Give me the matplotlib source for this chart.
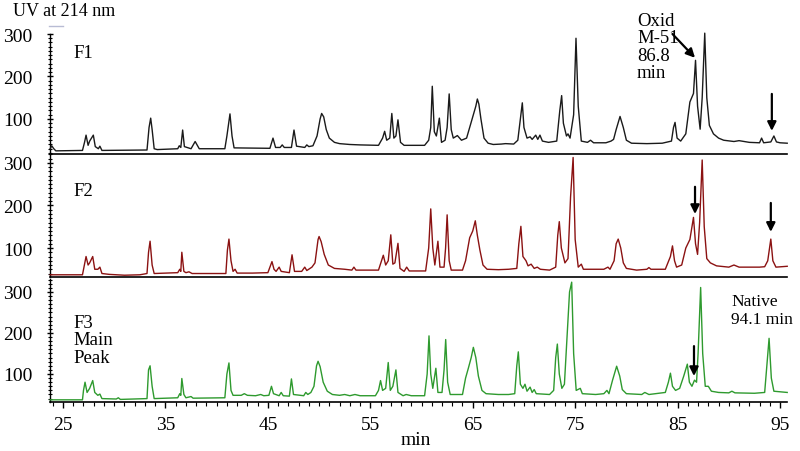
import matplotlib
matplotlib.use("Agg")
import matplotlib.pyplot as plt
from matplotlib.ticker import MultipleLocator, FixedLocator

plt.rcParams['font.family'] = ['Liberation Serif', 'DejaVu Serif']

# ---------------- data (retention time in min, UV signal) ----------------
f1_time = [23.75, 23.9, 24.1, 24.3, 26.9, 27.1, 27.25, 27.45, 27.6, 27.96, 28.15, 28.45, 28.6, 28.8,
           33.2, 33.4, 33.56, 33.7, 33.9, 34.2, 36.2, 36.35, 36.5, 36.68, 36.85, 37.5, 37.9, 38.3,
           40.8, 41.0, 41.3, 41.5, 41.7, 45.2, 45.5, 45.75, 46.2, 46.4, 46.6, 47.3, 47.55, 47.8,
           48.6, 48.8, 49.0, 49.4, 49.8, 50.1, 50.25, 50.45, 50.7, 51.0, 51.5, 52.0, 53.0, 54.0,
           55.8, 56.2, 56.4, 56.6, 56.9, 57.1, 57.3, 57.5, 57.7, 57.95, 58.3, 60.3, 60.7, 60.9,
           61.05, 61.25, 61.45, 61.74, 61.95, 62.3, 62.5, 62.7, 62.9, 63.1, 63.5, 63.9, 64.4, 64.7,
           64.9, 65.3, 65.45, 65.6, 65.8, 66.1, 66.5, 67.0, 67.8, 68.2, 69.0, 69.4, 69.65, 69.84,
           70.0, 70.3, 70.6, 70.8, 71.15, 71.35, 71.56, 71.8, 72.4, 73.2, 73.5, 73.68, 73.85, 74.15,
           74.3, 74.5, 74.85, 75.08, 75.3, 75.6, 76.2, 76.5, 76.8, 77.5, 78.0, 78.5, 78.75, 79.0,
           79.38, 79.7, 80.0, 80.5, 82.0, 83.5, 84.4, 84.6, 84.75, 84.95, 85.3, 85.8, 86.2, 86.55,
           86.75, 86.95, 87.2, 87.4, 87.65, 87.85, 88.1, 88.5, 89.0, 89.5, 90.5, 91.0, 92.0, 93.0,
           93.2, 93.4, 94.1, 94.4, 94.65, 95.0, 95.7]
f1_signal = [30, 37, 30, 25, 26, 45, 62, 38, 48, 62, 35, 30, 36, 26,
             27, 80, 102, 75, 30, 28, 30, 37, 33, 74, 35, 30, 47, 30,
             30, 60, 112, 60, 32, 31, 55, 33, 33, 39, 33, 33, 74, 36,
             33, 39, 35, 37, 60, 100, 113, 105, 75, 55, 45, 42, 40, 39,
             38, 55, 71, 50, 55, 113, 55, 60, 98, 45, 38, 38, 50, 80,
             177, 70, 60, 102, 45, 50, 80, 159, 75, 55, 61, 50, 55, 80,
             96, 130, 147, 135, 100, 55, 43, 40, 41, 42, 41, 50, 100, 138,
             80, 55, 58, 52, 62, 52, 62, 48, 45, 48, 120, 155, 90, 60,
             65, 55, 110, 290, 130, 48, 45, 50, 44, 44, 44, 48, 52, 75,
             106, 80, 50, 43, 42, 43, 48, 80, 92, 55, 48, 65, 140, 160,
             238, 130, 76, 150, 302, 150, 85, 65, 55, 50, 47, 49, 45, 44,
             55, 44, 46, 60, 46, 44, 43]

f2_time = [23.75, 26.9, 27.05, 27.25, 27.45, 27.6, 27.9, 28.1, 28.4, 28.6, 28.8, 29.5, 31.0, 32.5,
           33.2, 33.35, 33.5, 33.7, 33.9, 36.2, 36.4, 36.5, 36.6, 36.8, 37.0, 37.3, 37.6, 40.9,
           41.05, 41.2, 41.4, 41.6, 41.8, 42.0, 43.5, 45.0, 45.2, 45.4, 45.6, 45.8, 46.1, 46.3,
           47.1, 47.36, 47.6, 48.3, 48.6, 48.8, 49.3, 49.6, 49.9, 50.0, 50.2, 50.5, 50.9, 51.5,
           52.5, 53.2, 53.4, 53.6, 54.5, 55.8, 56.1, 56.27, 56.5, 56.75, 57.0, 57.2, 57.4, 57.7,
           57.9, 58.3, 58.55, 58.8, 60.4, 60.7, 60.9, 61.1, 61.3, 61.6, 61.8, 62.2, 62.35, 62.5,
           62.7, 62.9, 64.0, 64.3, 64.7, 65.0, 65.25, 65.45, 65.7, 66.0, 66.4, 67.5, 68.5, 69.3,
           69.5, 69.7, 69.9, 70.2, 70.4, 70.7, 71.0, 71.3, 71.6, 72.5, 73.1, 73.3, 73.45, 73.65,
           74.0, 74.3, 74.55, 74.8, 75.0, 75.3, 75.6, 75.8, 77.0, 77.8, 78.2, 78.4, 78.8, 79.0,
           79.2, 79.45, 79.7, 80.0, 81.0, 82.0, 82.2, 82.4, 83.8, 84.3, 84.5, 84.7, 84.9, 85.4,
           85.8, 86.2, 86.55, 86.75, 86.95, 87.15, 87.4, 87.6, 87.85, 88.2, 88.8, 90.0, 90.5, 91.0,
           92.5, 93.0, 93.5, 93.8, 94.1, 94.3, 94.6, 95.7]
f2_signal = [37, 37, 55, 80, 60, 65, 80, 50, 50, 55, 40, 38, 36, 37,
             40, 90, 116, 60, 40, 42, 50, 45, 90, 45, 42, 44, 40, 40,
             95, 121, 70, 45, 50, 41, 41, 42, 55, 68, 50, 45, 55, 45,
             42, 84, 45, 45, 55, 47, 55, 65, 120, 127, 115, 85, 60, 52,
             50, 48, 55, 48, 48, 48, 70, 83, 60, 70, 131, 62, 65, 111,
             52, 45, 55, 46, 46, 100, 192, 100, 60, 116, 55, 55, 100, 178,
             70, 48, 48, 70, 124, 140, 164, 130, 95, 60, 50, 49, 50, 52,
             110, 151, 80, 70, 58, 62, 52, 55, 50, 48, 55, 130, 162, 100,
             65, 75, 220, 313, 120, 55, 62, 50, 50, 50, 55, 50, 70, 110,
             121, 100, 65, 52, 48, 50, 54, 50, 50, 80, 105, 70, 55, 60,
             100, 120, 172, 110, 85, 160, 307, 150, 75, 65, 58, 55, 60, 55,
             55, 55, 56, 70, 121, 70, 55, 57]

f3_time = [23.75, 26.9, 27.0, 27.15, 27.35, 27.6, 27.9, 28.1, 28.4, 28.6, 28.8, 30.2, 30.4, 30.6,
           33.2, 33.35, 33.5, 33.7, 33.9, 36.2, 36.4, 36.5, 36.6, 36.8, 37.0, 37.5, 37.7, 40.8,
           41.0, 41.2, 41.4, 41.6, 42.4, 42.7, 43.0, 43.8, 44.3, 44.6, 45.1, 45.35, 45.55, 46.1,
           46.3, 46.5, 47.1, 47.3, 47.5, 48.5, 48.7, 48.9, 49.2, 49.5, 49.75, 49.9, 50.1, 50.4,
           50.8, 51.3, 52.0, 52.5, 53.0, 53.5, 54.0, 55.5, 55.8, 56.0, 56.2, 56.5, 56.75, 56.95,
           57.2, 57.5, 57.7, 58.2, 58.5, 59.0, 60.3, 60.55, 60.73, 60.9, 61.1, 61.4, 61.6, 62.0,
           62.2, 62.36, 62.55, 62.8, 64.0, 64.3, 64.57, 64.85, 65.06, 65.3, 65.55, 65.9, 66.3, 67.5,
           68.5, 69.1, 69.3, 69.45, 69.65, 69.9, 70.1, 70.3, 70.6, 70.8, 71.0, 71.2, 72.5, 72.9,
           73.1, 73.26, 73.45, 73.7, 73.95, 74.25, 74.45, 74.66, 74.85, 75.1, 75.5, 75.7, 77.0, 77.8,
           78.1, 78.3, 78.65, 79.05, 79.35, 79.6, 80.0, 81.5, 81.8, 82.2, 83.8, 84.1, 84.3, 84.5,
           84.8, 85.2, 85.6, 85.95, 86.15, 86.4, 86.65, 86.85, 87.0, 87.25, 87.45, 87.7, 88.0, 88.3,
           89.0, 90.0, 90.3, 90.6, 92.5, 93.5, 93.75, 93.93, 94.15, 94.4, 95.7]
f3_signal = [37, 37, 60, 80, 55, 65, 84, 55, 48, 51, 40, 39, 42, 38,
             40, 110, 120, 70, 40, 42, 52, 48, 89, 50, 42, 45, 41, 42,
             100, 127, 60, 48, 48, 52, 48, 47, 50, 47, 48, 70, 52, 47,
             55, 47, 46, 88, 50, 47, 55, 50, 55, 70, 120, 131, 118, 80,
             58, 50, 48, 50, 47, 50, 47, 47, 60, 84, 60, 65, 128, 60,
             70, 110, 55, 47, 50, 47, 47, 100, 193, 100, 65, 114, 55, 55,
             110, 184, 80, 50, 50, 90, 114, 140, 165, 140, 95, 60, 52, 50,
             50, 52, 120, 154, 75, 65, 75, 58, 68, 55, 62, 52, 50, 60,
             140, 173, 100, 65, 75, 210, 300, 324, 150, 60, 65, 52, 50, 52,
             60, 52, 85, 119, 95, 62, 52, 50, 55, 50, 55, 80, 102, 70,
             60, 65, 95, 124, 80, 70, 85, 80, 150, 311, 150, 70, 70, 58,
             55, 54, 58, 54, 53, 55, 130, 187, 90, 58, 55]

panel_labels = ["F1", "F2", "F3\nMain\nPeak"]
x_ticks = [25, 35, 45, 55, 65, 75, 85, 95]
y_ticks = [100, 200, 300]

# ---------------- figure ----------------
W, H = 800, 452
fig = plt.figure(figsize=(W / 100, H / 100), dpi=100)


def fx(px):
    return px / W


def fy(py):
    return 1 - py / H


left, right = 50, 787
panels = [(35, 155, (17.6, 300)), (154, 278, (31.8, 323.5)), (280, 403, (31.7, 331.7))]
colors = ['#1a1a1a', '#8B1212', '#2E9A2E']
series = [(f1_time, f1_signal), (f2_time, f2_signal), (f3_time, f3_signal)]
xlim = (23.73, 95.68)

axes = []
for i, ((top, bot, ylim), col, (t, s)) in enumerate(zip(panels, colors, series)):
    ax = fig.add_axes([fx(left), fy(bot), fx(right - left), (bot - top) / H])
    ax.plot(t, s, color=col, lw=1.0, clip_on=False, zorder=3)
    ax.set_xlim(*xlim)
    ax.set_ylim(*ylim)
    ax.patch.set_visible(False)
    for sp in ['top', 'right']:
        ax.spines[sp].set_visible(False)
    ax.spines['left'].set_linewidth(1.0)
    ax.spines['bottom'].set_linewidth(1.2)
    ax.yaxis.set_major_locator(FixedLocator(y_ticks))
    ax.yaxis.set_minor_locator(MultipleLocator(10))
    ax.tick_params(axis='y', which='major', direction='inout', length=5, width=1.0,
                   labelsize=14, pad=10)
    ax.tick_params(axis='y', which='minor', direction='inout', length=3, width=0.8)
    if i < 2:
        ax.tick_params(axis='x', which='both', bottom=False, labelbottom=False)
    else:
        ax.xaxis.set_major_locator(FixedLocator(x_ticks))
        ax.xaxis.set_minor_locator(MultipleLocator(1))
        ax.tick_params(axis='x', which='major', direction='out', length=4, width=1.0,
                       labelsize=14, pad=6)
        ax.tick_params(axis='x', which='minor', direction='out', length=3, width=0.8)
    axes.append(ax)

ax1, ax2, ax3 = axes
fig.text(fx(416), fy(441), "min", fontsize=14, va='center', ha='center')

# panel labels
fig.text(fx(73), fy(53), panel_labels[0], fontsize=13.5, va='center', ha='left')
fig.text(fx(73), fy(192), panel_labels[1], fontsize=13.5, va='center', ha='left')
fig.text(fx(73), fy(341), panel_labels[2], fontsize=13.5, va='center', ha='left', linespacing=1.05)

# y-axis title
fig.text(fx(13), fy(12), "UV at 214 nm", fontsize=13, va='center', ha='left')
fig.add_artist(plt.Line2D([fx(49), fx(63)], [fy(27), fy(27)], color='#b8bcd4', lw=1.0))

# annotations
fig.text(fx(637), fy(47.5), "Oxid\nM-51\n86.8\nmin", fontsize=13.5, va='center', ha='left',
         linespacing=1.05)
fig.text(fx(731), fy(311), "Native\n94.1 min", fontsize=12.5, va='center', ha='left',
         linespacing=1.15)

arrow = dict(arrowstyle='-|>', color='black', lw=1.6, mutation_scale=13, shrinkA=0, shrinkB=0)
ax1.annotate("", xy=(86.7, 244), xytext=(84.5, 300), arrowprops=arrow, annotation_clip=False)
ax1.annotate("", xy=(94.2, 72), xytext=(94.2, 159), arrowprops=arrow, annotation_clip=False)
ax2.annotate("", xy=(86.7, 180), xytext=(86.7, 244), arrowprops=arrow, annotation_clip=False)
ax2.annotate("", xy=(94.1, 138), xytext=(94.1, 206), arrowprops=arrow, annotation_clip=False)
ax3.annotate("", xy=(86.6, 95), xytext=(86.6, 168), arrowprops=arrow, annotation_clip=False)

fig.savefig("out.png", dpi=100)
